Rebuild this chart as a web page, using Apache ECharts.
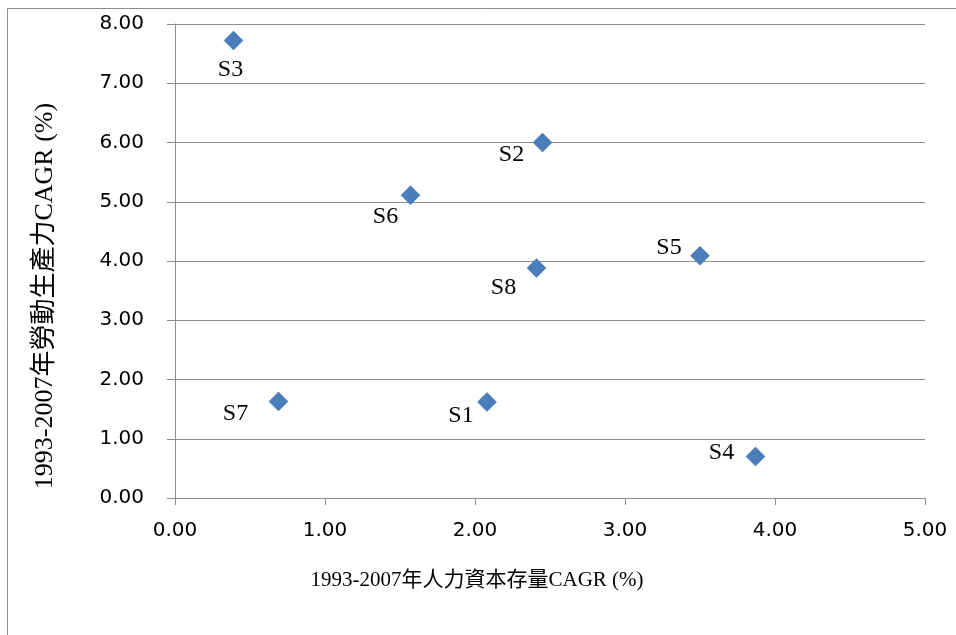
<!DOCTYPE html>
<html>
<head>
<meta charset="utf-8">
<script src="https://cdn.jsdelivr.net/npm/echarts@6/dist/echarts.min.js"></script>
<style>
html,body{margin:0;padding:0;background:#fff;}
#chart{width:956px;height:635px;}
</style>
</head>
<body>
<div id="chart"></div>
<script>
// Data
const names = ['S1','S2','S3','S4','S5','S6','S7','S8'];
const humanCapitalCAGR = [2.08, 2.45, 0.39, 3.87, 3.50, 1.57, 0.69, 2.41];
const laborProductivityCAGR = [1.62, 6.00, 7.72, 0.70, 4.09, 5.11, 1.63, 3.88];
const xTicks = ['0.00','1.00','2.00','3.00','4.00','5.00'];
const yTicks = ['0.00','1.00','2.00','3.00','4.00','5.00','6.00','7.00','8.00'];
const xTitle = '1993-2007年人力資本存量CAGR (%)';
const yTitle = '1993-2007年勞動生產力CAGR (%)';

// Label placement (style)
const labelOffsets = {
  S1: [-26, 14], S2: [-31, 12], S3: [-3, 29], S4: [-34, -4],
  S5: [-31, -8], S6: [-25, 21], S7: [-43, 12], S8: [-33, 20]
};

const serif = "'Liberation Serif', 'Times New Roman', 'Noto Sans CJK TC', serif";
const sans = "'DejaVu Sans', sans-serif";
const gray = '#8c8c8c';

const data = names.map((n, i) => ({
  name: n,
  value: [humanCapitalCAGR[i], laborProductivityCAGR[i]],
  label: { offset: labelOffsets[n] }
}));

const chart = echarts.init(document.getElementById('chart'), null, {renderer: 'canvas'});
chart.setOption({
  animation: false,
  backgroundColor: '#fff',
  grid: { left: 175, right: 31, top: 24, bottom: 137, containLabel: false },
  xAxis: {
    type: 'value', min: 0, max: 5, interval: 1,
    axisLine: { show: true, lineStyle: { color: gray, width: 1 } },
    axisTick: { show: true, length: 7, lineStyle: { color: gray } },
    splitLine: { show: false },
    axisLabel: {
      margin: 23, fontFamily: sans, fontSize: 20, color: '#000',
      formatter: (v) => xTicks[Math.round(v)]
    }
  },
  yAxis: {
    type: 'value', min: 0, max: 8, interval: 1,
    axisLine: { show: true, lineStyle: { color: gray, width: 1 } },
    axisTick: { show: true, length: 8, lineStyle: { color: gray } },
    splitLine: { show: true, lineStyle: { color: gray, width: 1 } },
    axisLabel: {
      margin: 31, fontFamily: sans, fontSize: 20, color: '#000',
      formatter: (v) => yTicks[Math.round(v)]
    }
  },
  graphic: [
    { type: 'rect', shape: { x: 7.5, y: 8.5, width: 2000, height: 2000 },
      style: { fill: 'none', stroke: gray, lineWidth: 1 }, silent: true },
    { type: 'text', x: 477, y: 580,
      style: { text: xTitle, font: '21px ' + serif, fill: '#000', align: 'center', verticalAlign: 'middle' } },
    { type: 'text', x: 45, y: 296, rotation: Math.PI / 2,
      style: { text: yTitle, font: '26px ' + serif, fill: '#000', align: 'center', verticalAlign: 'middle' } }
  ],
  series: [{
    type: 'scatter',
    symbol: 'diamond',
    symbolSize: 19,
    itemStyle: { color: '#4a7ebb', borderColor: '#3f73b0', borderWidth: 0.5, opacity: 1 },
    label: {
      show: true, position: 'inside',
      formatter: (p) => p.name,
      fontFamily: serif, fontSize: 24, color: '#000',
      align: 'center', verticalAlign: 'middle'
    },
    data: data
  }]
});
</script>
</body>
</html>
